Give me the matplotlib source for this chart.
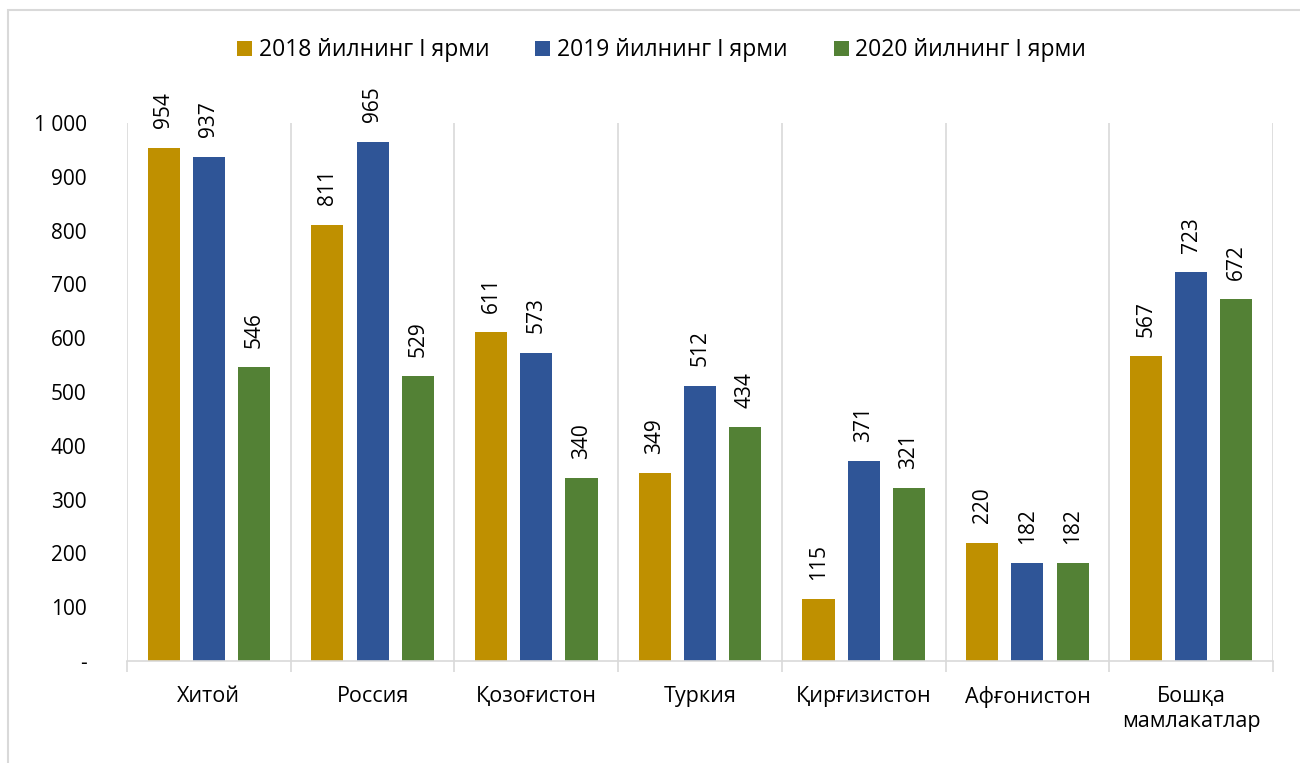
import numpy as np
from matplotlib import pyplot as plt
from matplotlib.patches import Rectangle

plt.rcParams['font.family'] = ['Open Sans', 'DejaVu Sans']

countries = ['Хитой', 'Россия', 'Қозоғистон', 'Туркия', 'Қирғизистон',
             'Афғонистон', 'Бошқа\nмамлакатлар']
series = ['2018 йилнинг I ярми', '2019 йилнинг I ярми', '2020 йилнинг I ярми']
v2018 = [954, 811, 611, 349, 115, 220, 567]
v2019 = [937, 965, 573, 512, 371, 182, 723]
v2020 = [546, 529, 340, 434, 321, 182, 672]
colors = ['#BF9000', '#2F5597', '#538135']
yticks = [0, 100, 200, 300, 400, 500, 600, 700, 800, 900, 1000]
ylabels = ['-', '100', '200', '300', '400', '500', '600', '700', '800', '900', '1 000']

fig = plt.figure(figsize=(13, 7.63), dpi=100)
ax = fig.add_axes([0.0977, 0.1337, 0.8815, 0.7051])

# outer frame
fig.patches.append(Rectangle((8 / 1300, -0.1), 1.2, 0.1 + (763 - 10) / 763,
                             transform=fig.transFigure, fill=False,
                             edgecolor='#D9D9D9', linewidth=1.5))

x = np.arange(len(countries))
offs = [-0.276, 0, 0.276]
w = 0.196
for vals, off, c, lab in zip([v2018, v2019, v2020], offs, colors, series):
    bars = ax.bar(x + off, vals, w, color=c, label=lab)
    for b, v in zip(bars, vals):
        ax.annotate(str(v), (b.get_x() + b.get_width() / 2, v),
                    xytext=(0, 14), textcoords='offset points',
                    rotation=90, ha='center', va='bottom', fontsize=15)

ax.set_xlim(-0.5, len(countries) - 0.5)
ax.set_ylim(0, 1000)
ax.set_yticks(yticks)
ax.set_yticklabels(ylabels, fontsize=15)
ax.tick_params(axis='y', length=0, pad=29)

# category separators
ax.set_xticks(np.arange(len(countries) + 1) - 0.5)
ax.set_xticklabels([])
ax.set_xticks(x, minor=True)
ax.set_xticklabels(countries, minor=True, fontsize=15.5, linespacing=1.25)
ax.tick_params(axis='x', which='major', length=8, color='#D9D9D9', width=1.2)
ax.tick_params(axis='x', which='minor', length=0, pad=18)
for s in ax.get_xticks():
    ax.axvline(s, color='#D9D9D9', lw=1.2, zorder=0)

for sp in ['top', 'right', 'left']:
    ax.spines[sp].set_visible(False)
ax.spines['bottom'].set_color('#D9D9D9')
ax.spines['bottom'].set_linewidth(1.2)

fig.legend(loc='center', bbox_to_anchor=(0.509, 0.934), ncol=3, frameon=False,
           fontsize=16.5, handlelength=0.65, handleheight=0.65, handletextpad=0.3,
           columnspacing=2.0)

fig.savefig('out.png', dpi=100)
